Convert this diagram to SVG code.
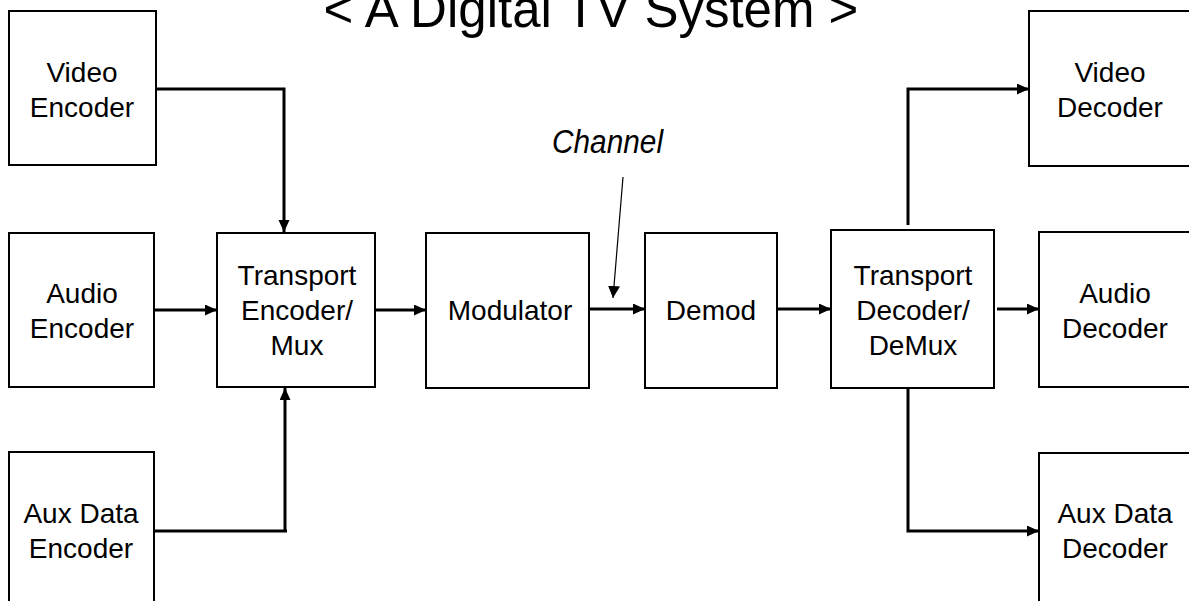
<svg xmlns="http://www.w3.org/2000/svg" width="1189" height="601" viewBox="0 0 1189 601">
<style>
.box{fill:#fff;stroke:#000;stroke-width:2}
.lbl{font-family:"Liberation Sans",Arial,sans-serif;font-size:28px;fill:#000;text-anchor:middle}
.con{fill:none;stroke:#000;stroke-width:3}
.thin{fill:none;stroke:#000;stroke-width:1.2}
</style>
<defs>
<marker id="ah" markerUnits="userSpaceOnUse" markerWidth="14" markerHeight="12" refX="12" refY="5.5" orient="auto">
<path d="M0,0 L12,5.5 L0,11 Z" fill="#000"/>
</marker>
<marker id="ah2" markerUnits="userSpaceOnUse" markerWidth="14" markerHeight="14" refX="12" refY="6" orient="auto">
<path d="M0,0 L12,6 L0,12 Z" fill="#000"/>
</marker>
</defs>
<rect width="1189" height="601" fill="#fff"/>
<text x="591" y="27" font-family="'Liberation Sans',Arial,sans-serif" font-size="51" text-anchor="middle">&lt; A Digital TV System &gt;</text>
<text x="552" y="153" font-family="'Liberation Sans',Arial,sans-serif" font-size="34" font-style="italic" textLength="111" lengthAdjust="spacingAndGlyphs">Channel</text>
<g id="connectors">
<path class="con" d="M152,89 H284 V232" marker-end="url(#ah)"/>
<path class="con" d="M155,310 H217" marker-end="url(#ah)"/>
<path class="con" d="M152,531 H287 M285,531 V388" marker-end="url(#ah)"/>
<path class="con" d="M371,310 H426" marker-end="url(#ah)"/>
<path class="con" d="M590,309 H645" marker-end="url(#ah)"/>
<path class="con" d="M777,309 H831" marker-end="url(#ah)"/>
<path class="con" d="M908,225 V89 H1029" marker-end="url(#ah)"/>
<path class="con" d="M997,309 H1039" marker-end="url(#ah)"/>
<path class="con" d="M908,388 V531 H1039" marker-end="url(#ah)"/>
<path class="thin" d="M623,177 L613,298" marker-end="url(#ah2)"/>
</g>
<g id="video-encoder"><rect class="box" x="9" y="11" width="147" height="154"/><text class="lbl" x="82" y="82">Video</text><text class="lbl" x="82" y="117">Encoder</text></g>
<g id="audio-encoder"><rect class="box" x="9" y="233" width="145" height="154"/><text class="lbl" x="82" y="303">Audio</text><text class="lbl" x="82" y="338">Encoder</text></g>
<g id="aux-encoder"><rect class="box" x="9" y="452" width="145" height="160"/><text class="lbl" x="81" y="523">Aux Data</text><text class="lbl" x="81" y="558">Encoder</text></g>
<g id="transport-encoder"><rect class="box" x="217" y="233" width="158" height="154"/><text class="lbl" x="297" y="285">Transport</text><text class="lbl" x="297" y="320">Encoder/</text><text class="lbl" x="297" y="355">Mux</text></g>
<g id="modulator"><rect class="box" x="426" y="233" width="163" height="155"/><text class="lbl" x="510" y="320">Modulator</text></g>
<g id="demod"><rect class="box" x="645" y="233" width="132" height="155"/><text class="lbl" x="711" y="320">Demod</text></g>
<g id="transport-decoder"><rect class="box" x="831" y="230" width="163" height="158"/><text class="lbl" x="913" y="285">Transport</text><text class="lbl" x="913" y="320">Decoder/</text><text class="lbl" x="913" y="355">DeMux</text></g>
<g id="video-decoder"><rect class="box" x="1029" y="11" width="170" height="155"/><text class="lbl" x="1110" y="82">Video</text><text class="lbl" x="1110" y="117">Decoder</text></g>
<g id="audio-decoder"><rect class="box" x="1039" y="232" width="170" height="155"/><text class="lbl" x="1115" y="303">Audio</text><text class="lbl" x="1115" y="338">Decoder</text></g>
<g id="aux-decoder"><rect class="box" x="1039" y="453" width="170" height="160"/><text class="lbl" x="1115" y="523">Aux Data</text><text class="lbl" x="1115" y="558">Decoder</text></g>
</svg>
